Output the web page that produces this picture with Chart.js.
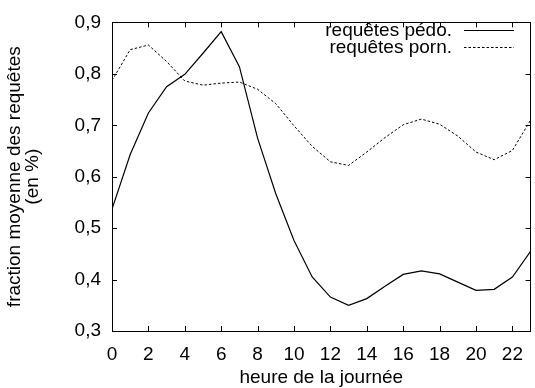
<!DOCTYPE html>
<html>
<head>
<meta charset="utf-8">
<script src="https://cdn.jsdelivr.net/npm/chart.js@4/dist/chart.umd.min.js"></script>
<style>
  html, body { margin: 0; padding: 0; background: #fff; }
  #wrap { width: 535px; height: 388px; position: relative; }
</style>
</head>
<body>
<div id="wrap"><canvas id="c" width="535" height="388"></canvas></div>
<script>
const hours = [0,1,2,3,4,5,6,7,8,9,10,11,12,13,14,15,16,17,18,19,20,21,22,23];
const pedo  = [0.537,0.643,0.724,0.775,0.799,0.840,0.882,0.814,0.675,0.567,0.476,0.405,0.366,0.350,0.363,0.387,0.410,0.417,0.411,0.395,0.379,0.381,0.405,0.455];
const porn  = [0.787,0.847,0.856,0.824,0.786,0.778,0.782,0.784,0.770,0.742,0.699,0.659,0.629,0.622,0.648,0.676,0.701,0.712,0.702,0.679,0.648,0.633,0.651,0.710];
const seriesLabels = ['requêtes pédo.', 'requêtes porn.'];
const xTitle = 'heure de la journée';
const yTitle = ['fraction moyenne des requêtes', '(en %)'];

const FONT = '"Liberation Sans", Arial, Helvetica, sans-serif';

const framePlugin = {
  id: 'frame',
  afterDraw(chart) {
    const {ctx, chartArea: a, scales: {x, y}} = chart;
    ctx.save();
    ctx.strokeStyle = '#000';
    ctx.lineWidth = 1;
    ctx.strokeRect(Math.round(a.left) + 0.5, Math.round(a.top) + 0.5, Math.round(a.right - a.left) - 1, Math.round(a.bottom - a.top));
    const tl = 5;
    ctx.beginPath();
    x.ticks.forEach(t => {
      const px = Math.round(x.getPixelForValue(t.value)) + 0.5;
      ctx.moveTo(px, a.bottom); ctx.lineTo(px, a.bottom - tl);
      ctx.moveTo(px, a.top); ctx.lineTo(px, a.top + tl);
    });
    y.ticks.forEach(t => {
      const py = Math.round(y.getPixelForValue(t.value)) + 0.5;
      ctx.moveTo(a.left, py); ctx.lineTo(a.left + tl, py);
      ctx.moveTo(a.right, py); ctx.lineTo(a.right - tl, py);
    });
    ctx.stroke();
    // legend
    ctx.font = '19px ' + FONT;
    ctx.fillStyle = '#000';
    ctx.textAlign = 'right';
    ctx.textBaseline = 'middle';
    const rows = [31, 48];
    chart.data.datasets.forEach((ds, i) => {
      ctx.fillText(ds.label, 452, rows[i]);
      ctx.beginPath();
      ctx.setLineDash(ds.borderDash || []);
      ctx.lineWidth = 1;
      ctx.moveTo(464, rows[i] - 0.5);
      ctx.lineTo(514, rows[i] - 0.5);
      ctx.stroke();
    });
    ctx.restore();
  }
};

new Chart(document.getElementById('c'), {
  type: 'line',
  data: {
    datasets: [
      { label: seriesLabels[0], data: hours.map((h, i) => ({x: h, y: pedo[i]})),
        borderColor: '#000', borderWidth: 1.2, pointRadius: 0, tension: 0, fill: false },
      { label: seriesLabels[1], data: hours.map((h, i) => ({x: h, y: porn[i]})),
        borderColor: '#000', borderWidth: 1, borderDash: [2.5, 2], pointRadius: 0, tension: 0, fill: false }
    ]
  },
  options: {
    responsive: false,
    animation: false,
    devicePixelRatio: 1,
    layout: { padding: { left: 0, right: 1, top: 14, bottom: 0 } },
    plugins: { legend: { display: false }, tooltip: { enabled: false } },
    scales: {
      x: {
        type: 'linear', min: 0, max: 23,
        grid: { display: false, drawTicks: false },
        border: { display: false },
        ticks: { stepSize: 2, includeBounds: false, padding: 12, color: '#000', font: { family: FONT, size: 19 }, maxRotation: 0, autoSkip: false },
        title: { display: true, text: xTitle, color: '#000', font: { family: FONT, size: 19, lineHeight: 1.0 }, padding: { top: 0, bottom: 1 } },
        afterFit(s) { s.height = 57; }
      },
      y: {
        type: 'linear', min: 0.3, max: 0.9,
        grid: { display: false, drawTicks: false },
        border: { display: false },
        ticks: { stepSize: 0.1, padding: 11, color: '#000', font: { family: FONT, size: 19 },
          callback: v => v.toFixed(1).replace('.', ',') },
        title: { display: true, text: yTitle, color: '#000', font: { family: FONT, size: 19, lineHeight: 0.95 }, padding: { top: 6, bottom: 0 } },
        afterFit(s) { s.width = 112; }
      }
    }
  },
  plugins: [framePlugin]
});
</script>
</body>
</html>
